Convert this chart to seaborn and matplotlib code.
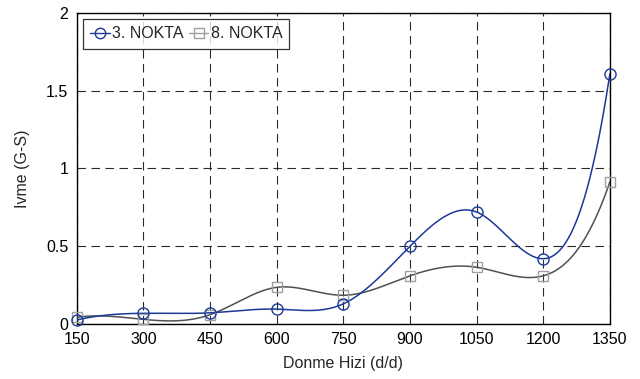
import numpy as np
import pandas as pd
import matplotlib
matplotlib.use("Agg")
import matplotlib.pyplot as plt
from matplotlib.lines import Line2D
import seaborn as sns

speeds = [150, 300, 450, 600, 750, 900, 1050, 1200, 1350]
nokta3 = [0.026, 0.069, 0.072, 0.096, 0.13, 0.50, 0.72, 0.42, 1.61]
nokta8 = [0.043, 0.03, 0.06, 0.236, 0.185, 0.31, 0.365, 0.31, 0.915]
series_names = ["3. NOKTA", "8. NOKTA"]
xticks = [150, 300, 450, 600, 750, 900, 1050, 1200, 1350]
yticks = [0, 0.5, 1, 1.5, 2]
yticklabels = ["0", "0.5", "1", "1.5", "2"]


def spline_curve(x, y, n=600):
    """Cubic interpolating spline with not-a-knot end conditions."""
    x = np.asarray(x, float)
    y = np.asarray(y, float)
    k = len(x)
    h = np.diff(x)
    A = np.zeros((k, k))
    b = np.zeros(k)
    A[0, 0] = 1 / h[0]; A[0, 1] = -(1 / h[0] + 1 / h[1]); A[0, 2] = 1 / h[1]
    A[-1, -3] = 1 / h[-2]; A[-1, -2] = -(1 / h[-2] + 1 / h[-1]); A[-1, -1] = 1 / h[-1]
    for i in range(1, k - 1):
        A[i, i - 1] = h[i - 1]
        A[i, i] = 2 * (h[i - 1] + h[i])
        A[i, i + 1] = h[i]
        b[i] = 6 * ((y[i + 1] - y[i]) / h[i] - (y[i] - y[i - 1]) / h[i - 1])
    M = np.linalg.solve(A, b)
    xs = np.linspace(x[0], x[-1], n)
    idx = np.clip(np.searchsorted(x, xs) - 1, 0, k - 2)
    x0, x1 = x[idx], x[idx + 1]
    hh = x1 - x0
    t0 = x1 - xs
    t1 = xs - x0
    ys = (M[idx] * t0 ** 3 / (6 * hh) + M[idx + 1] * t1 ** 3 / (6 * hh)
          + (y[idx] / hh - M[idx] * hh / 6) * t0
          + (y[idx + 1] / hh - M[idx + 1] * hh / 6) * t1)
    return xs, ys


sns.set_style("white")
plt.rcParams["font.family"] = ["Liberation Sans", "DejaVu Sans"]

fig = plt.figure(figsize=(6.4, 3.79), dpi=100)
ax = fig.add_axes([0.120, 0.145, 0.833, 0.821])

blue = "#1a3a96"
gline = "#505050"
gmark = "#a0a0a0"

xs3, ys3 = spline_curve(speeds, nokta3)
xs8, ys8 = spline_curve(speeds, nokta8)

sns.lineplot(x=xs8, y=ys8, ax=ax, color=gline, lw=1.1, zorder=3)
sns.lineplot(x=xs3, y=ys3, ax=ax, color=blue, lw=1.1, zorder=4)
pts = pd.DataFrame({"speed": speeds, "n3": nokta3, "n8": nokta8})
ax.plot(pts["speed"], pts["n8"], ls="none", marker="s", ms=7.5, mfc="none",
        mec=gmark, mew=1.0, zorder=5, clip_on=False)
ax.plot(pts["speed"], pts["n3"], ls="none", marker="o", ms=8, mfc="none",
        mec=blue, mew=1.0, zorder=6, clip_on=False)

ax.set_xlim(150, 1350)
ax.set_ylim(0, 2)
ax.set_xticks(xticks)
ax.set_xticklabels([str(t) for t in xticks])
ax.set_yticks(yticks)
ax.set_yticklabels(yticklabels)
ax.grid(True, color="#2a2a2a", ls=(0, (7.6, 5)), lw=0.8)
ax.set_axisbelow(True)
for s in ax.spines.values():
    s.set_color("black")
    s.set_linewidth(1.0)
ax.tick_params(direction="in", length=4, width=0.8, labelsize=11.5,
               colors="black", pad=6)
ax.set_xlabel("Donme Hizi (d/d)", fontsize=11.5, labelpad=6)
ax.set_ylabel("Ivme (G-S)", fontsize=11.5, labelpad=12)

handles = [
    Line2D([], [], color=blue, lw=1.0, marker="o", ms=7.5, mfc="none", mec=blue),
    Line2D([], [], color=gmark, lw=1.0, marker="s", ms=7, mfc="none", mec=gmark),
]
leg = ax.legend(handles, series_names, loc="upper left", ncol=2,
                fontsize=11.5, frameon=True, fancybox=False,
                handlelength=1.2, handletextpad=0.15, columnspacing=0.35,
                borderpad=0.45, borderaxespad=0.4, edgecolor="black")
leg.get_frame().set_linewidth(0.9)

fig.savefig("out.png", dpi=100, facecolor="white")
